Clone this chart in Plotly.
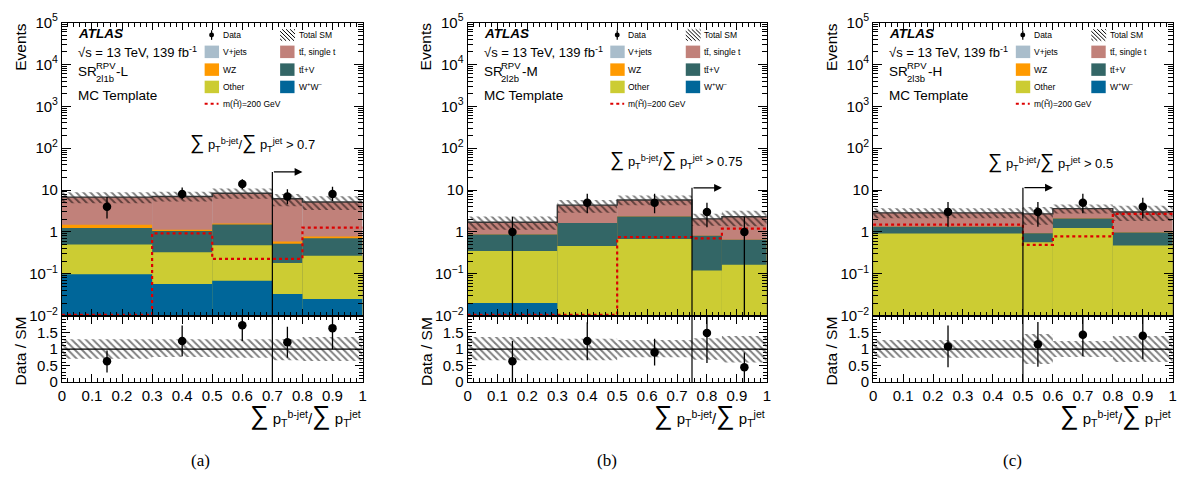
import math
import plotly.graph_objects as go

W, H = 1185, 488

# ---------------- panel (a): SR 2l1b - L ----------------
edges_a = [0.0, 0.3, 0.5, 0.7, 0.8, 1.0]
data_a = [4, 8, 14, 7, 8]
data_hi_a = [6.8, 11.5, 18.0, 10.5, 11.9]
data_lo_a = [2.1, 6.0, 10.5, 4.6, 5.5]
ww_a = [0.097, 0.057, 0.068, 0.033, 0.025]
other_a = [0.40, 0.27, 0.41, 0.147, 0.245]
ttv_a = [0.74, 0.72, 1.025, 0.34, 0.44]
wz_a = [0.24, 0.08, 0.08, 0.07, 0.07]
ttbar_a = [5.3, 5.9, 6.8, 5.6, 4.4]
vjets_a = [0.0, 0.0, 0.0, 0.0, 0.0]
sig_a = [0.0105, 0.92, 0.226, 0.226, 1.26]
band_hi_a = [1.30, 1.30, 1.30, 1.30, 1.37]
band_lo_a = [0.71, 0.76, 0.74, 0.66, 0.64]
ratio_a = [0.63, 1.25, 1.73, 1.21, 1.64]
ratio_hi_a = [0.96, 1.72, 2.10, 1.68, 2.10]
ratio_lo_a = [0.29, 0.78, 1.25, 0.74, 1.00]
cut_a, cut_end_a, cut_y_a = 0.7, 0.8, 27.0

# ---------------- panel (b): SR 2l2b - M ----------------
edges_b = [0.0, 0.3, 0.5, 0.75, 0.85, 1.0]
data_b = [1, 5, 5, 3, 1]
data_hi_b = [2.3, 8.1, 8.1, 5.0, 2.3]
data_lo_b = [0.001, 2.8, 2.8, 1.3, 0.001]
ww_b = [0.02, 0.0, 0.0, 0.0, 0.0]
other_b = [0.33, 0.46, 0.68, 0.12, 0.164]
ttv_b = [0.52, 1.18, 1.66, 0.69, 0.486]
wz_b = [0.0, 0.0, 0.0, 0.0, 0.0]
ttbar_b = [0.83, 2.71, 3.46, 1.24, 1.65]
vjets_b = [0.0, 0.0, 0.0, 0.0, 0.0]
sig_b = [0.0105, 0.0105, 0.75, 0.70, 1.2]
band_hi_b = [1.37, 1.32, 1.28, 1.33, 1.40]
band_lo_b = [0.66, 0.66, 0.75, 0.68, 0.59]
ratio_b = [0.63, 1.25, 0.90, 1.49, 0.45]
ratio_hi_b = [1.25, 1.82, 1.32, 2.10, 0.90]
ratio_lo_b = [0.0, 0.66, 0.50, 0.58, 0.0]
cut_b, cut_end_b, cut_y_b = 0.75, 0.85, 11.3

# ---------------- panel (c): SR 2l3b - H ----------------
edges_c = [0.0, 0.5, 0.6, 0.8, 1.0]
data_c = [3, 3, 5, 4]
data_hi_c = [5.2, 5.2, 8.1, 6.5]
data_lo_c = [1.33, 1.33, 2.8, 2.1]
ww_c = [0.0, 0.0, 0.0, 0.0]
other_c = [0.92, 0.57, 1.24, 0.475]
ttv_c = [0.41, 0.36, 0.86, 0.495]
wz_c = [0.0, 0.0, 0.0, 0.0]
ttbar_c = [1.52, 1.77, 1.5, 2.03]
vjets_c = [0.0, 0.0, 0.0, 0.0]
sig_c = [1.5, 0.49, 0.78, 2.7]
band_hi_c = [1.28, 1.46, 1.25, 1.40]
band_lo_c = [0.74, 0.55, 0.76, 0.61]
ratio_c = [1.08, 1.15, 1.44, 1.41]
ratio_hi_c = [1.72, 1.83, 2.10, 2.10]
ratio_lo_c = [0.45, 0.46, 0.79, 0.70]
cut_c, cut_end_c, cut_y_c = 0.5, 0.6, 11.4

# ---------------- labels ----------------
region_sub = ["2l1b", "2l2b", "2l3b"]
region_suffix = ["-L", "-M", "-H"]
cut_text = ["0.7", "0.75", "0.5"]
captions = ["(a)", "(b)", "(c)"]
main_tickvals = [1e-2, 1e-1, 1, 10, 1e2, 1e3, 1e4, 1e5]
main_ticktext = ["10<sup>\u22122</sup>", "10<sup>\u22121</sup>", "1", "10",
                 "10<sup>2</sup>", "10<sup>3</sup>", "10<sup>4</sup>", "10<sup>5</sup>"]
ratio_tickvals = [0, 0.5, 1, 1.5]
legend_left = [("V+jets", "vjets"), ("WZ", "wz"), ("Other", "other")]
legend_right = [("tt\u0304, single t", "ttbar"), ("tt\u0304+V", "ttv"), ("W<sup>+</sup>W<sup>\u2212</sup>", "ww")]

panels = [
    dict(edges=edges_a, data=data_a, hi=data_hi_a, lo=data_lo_a, ww=ww_a, other=other_a, ttv=ttv_a,
         wz=wz_a, ttbar=ttbar_a, vjets=vjets_a, sig=sig_a, bhi=band_hi_a, blo=band_lo_a,
         r=ratio_a, rhi=ratio_hi_a, rlo=ratio_lo_a, cut=cut_a, cut_end=cut_end_a, cut_y=cut_y_a),
    dict(edges=edges_b, data=data_b, hi=data_hi_b, lo=data_lo_b, ww=ww_b, other=other_b, ttv=ttv_b,
         wz=wz_b, ttbar=ttbar_b, vjets=vjets_b, sig=sig_b, bhi=band_hi_b, blo=band_lo_b,
         r=ratio_b, rhi=ratio_hi_b, rlo=ratio_lo_b, cut=cut_b, cut_end=cut_end_b, cut_y=cut_y_b),
    dict(edges=edges_c, data=data_c, hi=data_hi_c, lo=data_lo_c, ww=ww_c, other=other_c, ttv=ttv_c,
         wz=wz_c, ttbar=ttbar_c, vjets=vjets_c, sig=sig_c, bhi=band_hi_c, blo=band_lo_c,
         r=ratio_c, rhi=ratio_hi_c, rlo=ratio_lo_c, cut=cut_c, cut_end=cut_end_c, cut_y=cut_y_c),
]

colors = dict(vjets="#A9BDCB", ttbar="#C1817A", wz="#FF9A00", ttv="#336666",
              other="#CCCC33", ww="#006699")

FONT = "Liberation Sans, Arial, sans-serif"
SERIF = "Liberation Serif, Times New Roman, serif"

# layout geometry (pixels)
left_px = [58.3, 466.7, 875.0]
right_px = [361.0, 768.0, 1176.7]
caption_px = [198, 607, 1015]
cutlabel_x = [0.635, 0.698, 0.593]
cutlabel_ypx = [137, 155, 157]
MAIN_TOP, MAIN_BOT, RAT_BOT = 12, 317, 386


def X(px):
    return px / W


def Y(py):
    return 1 - py / H


fig = go.Figure()
annotations = []
shapes = []

axstyle = dict(showline=True, linecolor="black", linewidth=1, mirror="ticks", ticks="inside",
               tickcolor="black", showgrid=False, zeroline=False,
               tickfont=dict(family=FONT, size=15, color="black"))

hatch = dict(shape="\\", fgcolor="black", bgcolor="rgba(0,0,0,0)", size=5, solidity=0.4,
             fillmode="overlay")

for i, p in enumerate(panels):
    km, kr = 2 * i + 1, 2 * i + 2
    xm = "x" if km == 1 else f"x{km}"
    ym = "y" if km == 1 else f"y{km}"
    xr, yr = f"x{kr}", f"y{kr}"
    e = p["edges"]
    n = len(e) - 1
    cen = [(e[j] + e[j + 1]) / 2 for j in range(n)]
    wid = [e[j + 1] - e[j] for j in range(n)]

    # stacked backgrounds (cumulative, drawn from top layer down)
    order = ["ww", "other", "ttv", "wz", "ttbar", "vjets"]
    run = [0.0] * n
    cum = []
    for name in order:
        run = [run[j] + p[name][j] for j in range(n)]
        cum.append((name, list(run)))
    total = cum[-1][1]
    for name, vals in reversed(cum):
        fig.add_trace(go.Bar(x=cen, y=vals, width=wid, xaxis=xm, yaxis=ym, showlegend=False,
                             marker=dict(color=colors[name], line=dict(width=0)), opacity=1,
                             hoverinfo="skip"))

    # total SM uncertainty band
    fig.add_trace(go.Bar(x=cen, y=[total[j] * (p["bhi"][j] - p["blo"][j]) for j in range(n)],
                         base=[total[j] * p["blo"][j] for j in range(n)], width=wid,
                         xaxis=xm, yaxis=ym, showlegend=False, hoverinfo="skip",
                         marker=dict(color="rgba(0,0,0,0)", line=dict(width=0), pattern=hatch)))
    # total SM line
    fig.add_trace(go.Scatter(x=e, y=total + [total[-1]], mode="lines", xaxis=xm, yaxis=ym,
                             line=dict(shape="hv", color="#333333", width=1.4), showlegend=False,
                             hoverinfo="skip"))
    # signal
    fig.add_trace(go.Scatter(x=e, y=p["sig"] + [p["sig"][-1]], mode="lines", xaxis=xm, yaxis=ym,
                             line=dict(shape="hv", color="#DD0000", width=2.2, dash="dot"),
                             showlegend=False, hoverinfo="skip"))
    # cut line
    fig.add_trace(go.Scatter(x=[p["cut"], p["cut"]], y=[1e-3, p["cut_y"]], mode="lines",
                             xaxis=xm, yaxis=ym, line=dict(color="black", width=1.2),
                             showlegend=False, hoverinfo="skip"))
    # data
    fig.add_trace(go.Scatter(x=cen, y=p["data"], mode="markers", xaxis=xm, yaxis=ym,
                             marker=dict(color="black", size=8.5), showlegend=False,
                             error_y=dict(type="data", symmetric=False,
                                          array=[p["hi"][j] - p["data"][j] for j in range(n)],
                                          arrayminus=[p["data"][j] - p["lo"][j] for j in range(n)],
                                          color="black", thickness=1.3, width=0)))

    # ---- ratio panel ----
    fig.add_trace(go.Bar(x=cen, y=[p["bhi"][j] - p["blo"][j] for j in range(n)], base=p["blo"],
                         width=wid, xaxis=xr, yaxis=yr, showlegend=False, hoverinfo="skip",
                         marker=dict(color="rgba(0,0,0,0)", line=dict(width=0), pattern=hatch)))
    fig.add_trace(go.Scatter(x=[0, 1], y=[1, 1], mode="lines", xaxis=xr, yaxis=yr,
                             line=dict(color="black", width=1.2), showlegend=False, hoverinfo="skip"))
    fig.add_trace(go.Scatter(x=[p["cut"], p["cut"]], y=[0, 2.1], mode="lines", xaxis=xr, yaxis=yr,
                             line=dict(color="black", width=1.2), showlegend=False, hoverinfo="skip"))
    fig.add_trace(go.Scatter(x=cen, y=p["r"], mode="markers", xaxis=xr, yaxis=yr,
                             marker=dict(color="black", size=8.5), showlegend=False,
                             error_y=dict(type="data", symmetric=False,
                                          array=[p["rhi"][j] - p["r"][j] for j in range(n)],
                                          arrayminus=[p["r"][j] - p["rlo"][j] for j in range(n)],
                                          color="black", thickness=1.3, width=0)))

    L, R = left_px[i], right_px[i]
    kx = "xaxis" if km == 1 else f"xaxis{km}"
    ky = "yaxis" if km == 1 else f"yaxis{km}"
    fig.layout[kx] = dict(axstyle, domain=[X(L), X(R)], range=[0, 1], anchor=ym, dtick=0.1, tick0=0,
                          ticklen=7, showticklabels=False,
                          minor=dict(dtick=0.02, ticks="inside", ticklen=4, tickcolor="black"))
    fig.layout[ky] = dict(axstyle, domain=[Y(MAIN_BOT), Y(MAIN_TOP)], type="log", range=[-2, 5],
                          anchor=xm, tickmode="array", tickvals=main_tickvals, ticktext=main_ticktext,
                          ticklen=9,
                          minor=dict(dtick="D1", ticks="inside", ticklen=5, tickcolor="black"))
    fig.layout[f"xaxis{kr}"] = dict(axstyle, domain=[X(L), X(R)], range=[0, 1], anchor=yr, dtick=0.1,
                                    tick0=0, ticklen=8,
                                    minor=dict(dtick=0.02, ticks="inside", ticklen=4, tickcolor="black"))
    fig.layout[f"yaxis{kr}"] = dict(axstyle, domain=[Y(RAT_BOT), Y(MAIN_BOT)], range=[0, 2.02],
                                    anchor=xr, tickmode="array", tickvals=ratio_tickvals, ticklen=8,
                                    minor=dict(dtick=0.1, ticks="inside", ticklen=4, tickcolor="black"))

    # axis titles
    annotations.append(dict(text="Events", x=X(L - 42), y=Y(10), xref="paper", yref="paper",
                            xanchor="center", yanchor="top", textangle=-90, showarrow=False,
                            font=dict(family=FONT, size=15.5, color="black")))
    annotations.append(dict(text="Data / SM", x=X(L - 42), y=Y(354), xref="paper", yref="paper",
                            xanchor="center", yanchor="middle", textangle=-90, showarrow=False,
                            font=dict(family=FONT, size=15.5, color="black")))
    big = "<span style='font-size:26px'>\u2211</span>"
    annotations.append(dict(text=f"{big} p<sub>T</sub><sup>b-jet</sup>/{big} p<sub>T</sub><sup>jet</sup>",
                            x=X(R), y=Y(420), xref="paper", yref="paper", xanchor="right",
                            yanchor="middle", showarrow=False,
                            font=dict(family=FONT, size=15, color="black")))
    annotations.append(dict(text=captions[i], x=X(caption_px[i]), y=Y(468), xref="paper", yref="paper",
                            xanchor="center", yanchor="middle", showarrow=False,
                            font=dict(family=SERIF, size=17, color="black")))

    # cut label and arrow
    mid = "<span style='font-size:20px'>\u2211</span>"
    annotations.append(dict(text=f"{mid} p<sub>T</sub><sup>b-jet</sup>/{mid} p<sub>T</sub><sup>jet</sup> &gt; {cut_text[i]}",
                            x=cutlabel_x[i], y=Y(cutlabel_ypx[i]), xref=xm, yref="paper",
                            xanchor="center", yanchor="middle", showarrow=False,
                            font=dict(family=FONT, size=13, color="black")))
    ly = math.log10(p["cut_y"])
    annotations.append(dict(text="", x=p["cut_end"], y=ly, ax=p["cut"], ay=ly, xref=xm, yref=ym,
                            axref=xm, ayref=ym, showarrow=True, arrowhead=2, arrowsize=1.3,
                            arrowwidth=1.2, arrowcolor="black", standoff=0, startstandoff=0))

    # ATLAS text block
    tx = L + 14.4
    annotations.append(dict(text="<b><i>ATLAS</i></b>", x=X(tx), y=Y(23), xref="paper", yref="paper",
                            xanchor="left", yanchor="middle", showarrow=False,
                            font=dict(family=FONT, size=13.5, color="black")))
    annotations.append(dict(text="\u221as = 13 TeV, 139 fb<sup>-1</sup>", x=X(tx), y=Y(43),
                            xref="paper", yref="paper", xanchor="left", yanchor="middle",
                            showarrow=False, font=dict(family=FONT, size=13, color="black")))
    annotations.append(dict(text="SR", x=X(tx), y=Y(63), xref="paper", yref="paper",
                            xanchor="left", yanchor="middle", showarrow=False,
                            font=dict(family=FONT, size=13.5, color="black")))
    annotations.append(dict(text="RPV", x=X(tx + 17.5), y=Y(57), xref="paper", yref="paper",
                            xanchor="left", yanchor="middle", showarrow=False,
                            font=dict(family=FONT, size=9.5, color="black")))
    annotations.append(dict(text=region_sub[i], x=X(tx + 17.5), y=Y(70), xref="paper", yref="paper",
                            xanchor="left", yanchor="middle", showarrow=False,
                            font=dict(family=FONT, size=9.5, color="black")))
    annotations.append(dict(text=region_suffix[i], x=X(tx + 38.5), y=Y(63), xref="paper", yref="paper",
                            xanchor="left", yanchor="middle", showarrow=False,
                            font=dict(family=FONT, size=13.5, color="black")))
    annotations.append(dict(text="MC Template", x=X(tx), y=Y(88), xref="paper", yref="paper",
                            xanchor="left", yanchor="middle", showarrow=False,
                            font=dict(family=FONT, size=13.5, color="black")))

    # legend
    lf = dict(family=FONT, size=8.5, color="black")
    c1, c2 = L + 143.7, L + 219.7
    rows = [42.5, 61, 79]
    # Data entry
    shapes.append(dict(type="line", xref="paper", yref="paper", x0=X(c1 + 7), x1=X(c1 + 7),
                       y0=Y(20), y1=Y(30), line=dict(color="black", width=1.2)))
    shapes.append(dict(type="circle", xref="paper", yref="paper", x0=X(c1 + 4.5), x1=X(c1 + 9.5),
                       y0=Y(27.5), y1=Y(22.5), fillcolor="black", line=dict(color="black", width=0)))
    annotations.append(dict(text="Data", x=X(c1 + 16.3), y=Y(25), xref="paper", yref="paper",
                            xanchor="left", yanchor="middle", showarrow=False, font=lf))
    # Total SM hatched swatch
    sx0, sx1, sy0, sy1 = c2, c2 + 15, 19.0, 31.0
    for s in range(-10, 16, 4):
        t0 = max(0.0, -s)
        t1 = min(sy1 - sy0, (sx1 - sx0) - s)
        if t1 > t0:
            shapes.append(dict(type="line", xref="paper", yref="paper",
                               x0=X(sx0 + s + t0), y0=Y(sy0 + t0), x1=X(sx0 + s + t1), y1=Y(sy0 + t1),
                               line=dict(color="black", width=1)))
    annotations.append(dict(text="Total SM", x=X(c2 + 16.8), y=Y(25), xref="paper", yref="paper",
                            xanchor="left", yanchor="middle", showarrow=False, font=lf))
    for (lab, key), ry in zip(legend_left, rows):
        shapes.append(dict(type="rect", xref="paper", yref="paper", x0=X(c1), x1=X(c1 + 14.5),
                           y0=Y(ry + 6.5), y1=Y(ry - 6.5), fillcolor=colors[key], line=dict(width=0)))
        annotations.append(dict(text=lab, x=X(c1 + 16.3), y=Y(ry), xref="paper", yref="paper",
                                xanchor="left", yanchor="middle", showarrow=False, font=lf))
    for (lab, key), ry in zip(legend_right, rows):
        shapes.append(dict(type="rect", xref="paper", yref="paper", x0=X(c2), x1=X(c2 + 14.5),
                           y0=Y(ry + 6.5), y1=Y(ry - 6.5), fillcolor=colors[key], line=dict(width=0)))
        annotations.append(dict(text=lab, x=X(c2 + 16.8), y=Y(ry), xref="paper", yref="paper",
                                xanchor="left", yanchor="middle", showarrow=False, font=lf))
    shapes.append(dict(type="line", xref="paper", yref="paper", x0=X(c1), x1=X(c1 + 14),
                       y0=Y(96.5), y1=Y(96.5), line=dict(color="#DD0000", width=2, dash="dot")))
    annotations.append(dict(text="m(H\u0303)=200 GeV", x=X(c1 + 16), y=Y(96.5), xref="paper",
                            yref="paper", xanchor="left", yanchor="middle", showarrow=False, font=lf))

fig.update_layout(width=W, height=H, margin=dict(l=0, r=0, t=0, b=0), barmode="overlay",
                  plot_bgcolor="white", paper_bgcolor="white", showlegend=False,
                  annotations=annotations, shapes=shapes,
                  font=dict(family=FONT, color="black"))

fig.write_html("out.html", config={"displayModeBar": False},
               post_script="document.body.style.margin='0px';document.body.style.padding='0px';")
